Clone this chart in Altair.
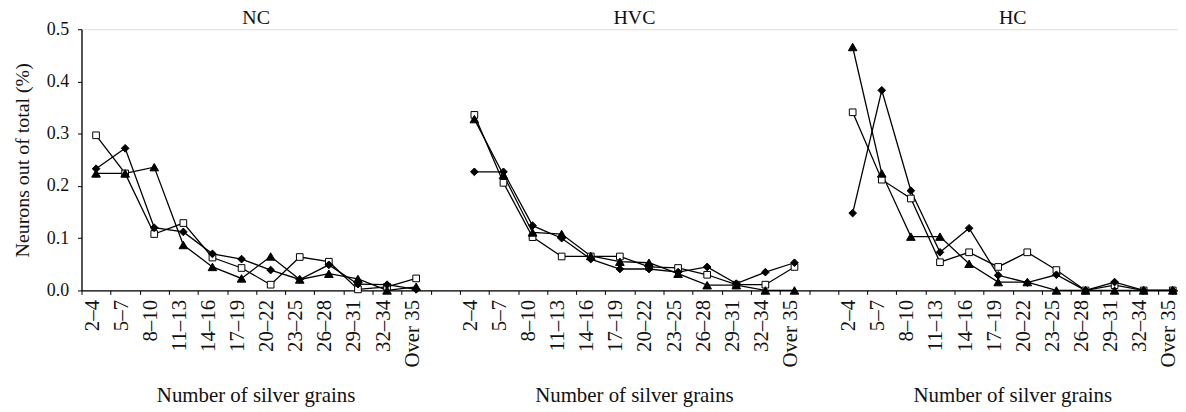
import altair as alt
import pandas as pd

groups = ["NC", "HVC", "HC"]
categories = ["2–4", "5–7", "8–10", "11–13", "14–16", "17–19",
              "20–22", "23–25", "26–28", "29–31", "32–34", "Over 35"]
series_names = ["Square", "Diamond", "Triangle"]

# values per group, per series
nc_square   = [0.297, 0.224, 0.108, 0.129, 0.063, 0.043, 0.011, 0.064, 0.055, 0.002, 0.007, 0.023]
nc_diamond  = [0.233, 0.272, 0.120, 0.112, 0.070, 0.060, 0.039, 0.021, 0.049, 0.012, 0.011, 0.002]
nc_triangle = [0.224, 0.224, 0.236, 0.087, 0.045, 0.023, 0.065, 0.021, 0.032, 0.022, 0.000, 0.007]

hvc_square   = [0.336, 0.206, 0.102, 0.065, 0.065, 0.065, 0.045, 0.043, 0.030, 0.011, 0.011, 0.045]
hvc_diamond  = [0.227, 0.227, 0.124, 0.100, 0.060, 0.041, 0.041, 0.035, 0.045, 0.013, 0.035, 0.053]
hvc_triangle = [0.328, 0.221, 0.111, 0.108, 0.066, 0.055, 0.053, 0.032, 0.010, 0.010, 0.000, 0.000]

hc_square   = [0.341, 0.212, 0.176, 0.054, 0.073, 0.045, 0.073, 0.039, 0.000, 0.010, 0.000, 0.000]
hc_diamond  = [0.148, 0.383, 0.191, 0.073, 0.119, 0.029, 0.015, 0.030, 0.000, 0.016, 0.000, 0.000]
hc_triangle = [0.466, 0.224, 0.103, 0.103, 0.051, 0.016, 0.016, 0.000, 0.000, 0.000, 0.000, 0.000]

data = {
    "NC": [nc_square, nc_diamond, nc_triangle],
    "HVC": [hvc_square, hvc_diamond, hvc_triangle],
    "HC": [hc_square, hc_diamond, hc_triangle],
}

ZW = "\u200b"  # zero-width space keeps repeated category labels distinct
keys = []
for gi, g in enumerate(groups):
    for c in categories:
        keys.append(c + ZW * gi)
    keys.append(" " * (gi + 1))  # empty gap category after each group

rows = []
for gi, g in enumerate(groups):
    for si, s in enumerate(series_names):
        for ci, v in enumerate(data[g][si]):
            rows.append({"key": categories[ci] + ZW * gi, "group": g, "series": s,
                         "line": g + "-" + s, "value": v})
df = pd.DataFrame(rows)

FONT = "Liberation Serif"
INK = "#111111"
PLOT_W = 1104
BAND = 29.3
x_range = [0, BAND * len(keys)]

x_enc = alt.X(
    "key:N",
    sort=keys,
    scale=alt.Scale(domain=keys, range=x_range, paddingInner=0, paddingOuter=0),
    axis=alt.Axis(
        labelAngle=270,
        labelOverlap=False,
        labelFont=FONT,
        labelFontSize=21,
        labelColor=INK,
        labelPadding=5,
        labelOffset=-4,
        tickBand="extent",
        tickSize=4,
        tickColor="black",
        tickWidth=1,
        domainColor="black",
        domainWidth=1.3,
        grid=False,
        title=None,
    ),
)

y_enc = alt.Y(
    "value:Q",
    scale=alt.Scale(domain=[0, 0.5], nice=False),
    axis=alt.Axis(
        values=[0, 0.1, 0.2, 0.3, 0.4, 0.5],
        format=".1f",
        labelFont=FONT,
        labelFontSize=18,
        labelColor=INK,
        labelPadding=9,
        tickSize=4,
        tickColor="black",
        domainColor="black",
        domainWidth=1.3,
        grid=False,
        title="Neurons out of total (%)",
        titleFont=FONT,
        titleFontSize=20,
        titleFontWeight="normal",
        titleColor=INK,
        titlePadding=14,
    ),
)

lines = alt.Chart(df).mark_line(color="black", strokeWidth=1.3).encode(
    x=x_enc, y=y_enc, detail="line:N"
)

points = alt.Chart(df).mark_point(filled=True, stroke="black", strokeWidth=1, opacity=1).encode(
    x=alt.X("key:N", sort=keys),
    y="value:Q",
    shape=alt.Shape("series:N", scale=alt.Scale(domain=series_names,
                                                range=["square", "diamond", "triangle-up"]), legend=None),
    color=alt.Color("series:N", scale=alt.Scale(domain=series_names,
                                                range=["white", "black", "black"]), legend=None),
    size=alt.Size("series:N", scale=alt.Scale(domain=series_names, range=[45, 75, 85]), legend=None),
)

# group titles centred on the boundary between the 6th and 7th category
title_df = pd.DataFrame({"group": groups,
                         "key": [categories[6] + ZW * gi for gi in range(len(groups))],
                         "xt": ["Number of silver grains"] * len(groups)})

panel_titles = alt.Chart(title_df).mark_text(
    font=FONT, fontSize=20, color=INK, baseline="alphabetic", align="center"
).encode(x=alt.X("key:N", sort=keys, bandPosition=0), y=alt.value(-5), text="group:N")

x_titles = alt.Chart(title_df).mark_text(
    font=FONT, fontSize=21, color=INK, baseline="alphabetic", align="center"
).encode(x=alt.X("key:N", sort=keys, bandPosition=0), y=alt.value(375), text="xt:N")

chart = alt.layer(lines, points, panel_titles, x_titles).properties(
    width=PLOT_W,
    height=263,
    autosize=alt.AutoSizeParams(type="none"),
    padding={"left": 74, "top": 20, "right": 0, "bottom": 117},
).configure_view(stroke=None).configure(background="white")

chart.save("out.html", embed_options={"renderer": "svg", "actions": False})
